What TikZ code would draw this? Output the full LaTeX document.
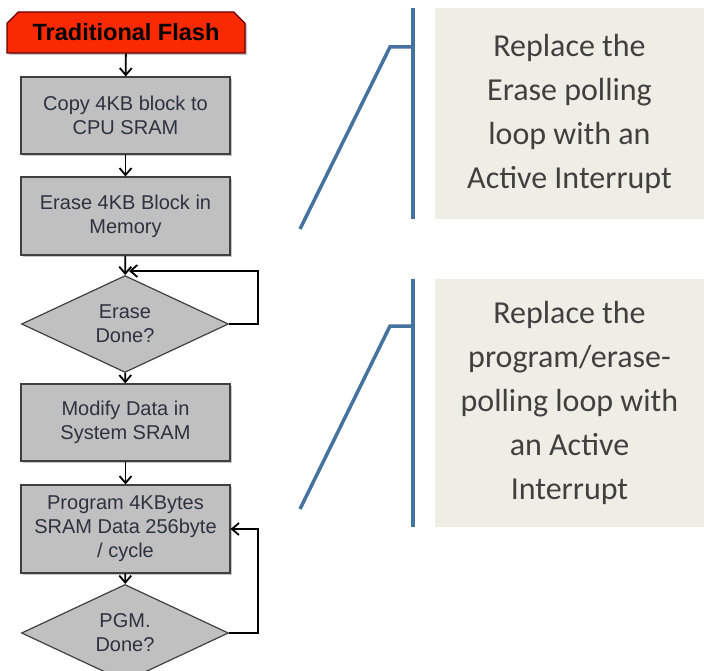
\documentclass[tikz,border=0pt]{standalone}
\usepackage{fontspec}
\setmainfont{Carlito}
\newfontfamily\arialfont{Liberation Sans}
\usetikzlibrary{arrows.meta}
\usetikzlibrary{shapes.geometric, shapes.misc, shadows}

\definecolor{flashred}{RGB}{250,42,0}
\definecolor{boxgray}{RGB}{192,192,192}
\definecolor{boxtext}{RGB}{45,50,62}
\definecolor{notefill}{RGB}{239,238,230}
\definecolor{notetext}{RGB}{64,64,64}
\definecolor{bracketblue}{RGB}{70,114,160}

\tikzset{
  flowbox/.style={rectangle, draw=black!75, line width=1.2pt, fill=boxgray,
    minimum width=209, minimum height=77, inner sep=0, align=center,
    text=boxtext, font=\arialfont\fontsize{20}{24}\selectfont,
    drop shadow={shadow xshift=2pt, shadow yshift=-2pt, opacity=0.45}},
  flowtest/.style={diamond, draw=black!75, line width=1.2pt, fill=boxgray,
    minimum width=207, minimum height=70, inner sep=0, align=center,
    text=boxtext, font=\arialfont\fontsize{20}{24}\selectfont},
  flowhead/.style={chamfered rectangle, chamfered rectangle corners={north west, north east},
    chamfered rectangle xsep=8pt, draw=black!60!red, line width=1.2pt, fill=flashred,
    minimum width=238, minimum height=41, inner sep=0,
    font=\arialfont\bfseries\fontsize{23.5}{27}\selectfont,
    drop shadow={shadow xshift=2pt, shadow yshift=-2pt, opacity=0.45}},
  flowarrow/.style={-{Straight Barb[length=7pt, width=12pt]}, line width=1.8pt},
  notebox/.style={rectangle, fill=notefill, minimum width=269, inner sep=0,
    align=center, text=notetext, font=\fontsize{32}{44}\selectfont},
  bracket/.style={draw=bracketblue, line width=3.5pt}
}

\begin{document}
\begin{tikzpicture}[x=1pt, y=-1pt]
\useasboundingbox (0,0) rectangle (704,671);

% flow chart
\node[flowhead] (head) at (126, 32.5) {Traditional Flash};
\node[flowbox]  (copy) at (125.5, 115.5) {Copy 4KB block to\\CPU SRAM};
\node[flowbox, minimum height=78] (erase) at (125.5, 216) {Erase 4KB Block in\\Memory};
\node[flowtest] (erasedone) at (125, 324) {Erase\\Done?};
\node[flowbox]  (modify) at (125.5, 422.5) {Modify Data in\\System SRAM};
\node[flowbox, minimum height=88] (program) at (125.5, 529) {Program 4KBytes\\SRAM Data 256byte\\/ cycle};
\node[flowtest, minimum height=72] (pgmdone) at (125, 633) {PGM.\\Done?};

\coordinate (eraseloop) at (258, 271);
\coordinate (eraseback) at (129, 271);
\coordinate (pgmloop)   at (258, 529);

\draw[flowarrow] (head)      -- (copy);
\draw[flowarrow] (copy)      -- (erase);
\draw[flowarrow] (erase)     -- (erasedone);
\draw[flowarrow] (erasedone) -- (modify);
\draw[flowarrow] (modify)    -- (program);
\draw[flowarrow] (program)   -- (pgmdone);
\draw[flowarrow] (erasedone.east) -- (eraseloop |- erasedone.east) -- (eraseloop) -- (eraseback);
\draw[flowarrow] (pgmdone.east) -- (pgmloop |- pgmdone.east) -- (pgmloop) -- (program.east);

% notes
\node[notebox, minimum height=211] (noteA) at (569.5, 113.5)
  {Replace the\\Erase polling\\loop with an\\Active Interrupt};
\node[notebox, minimum height=248] (noteB) at (569.5, 403)
  {Replace the\\program/erase-\\polling loop with\\an Active\\Interrupt};

\coordinate (kneeA) at (390, 47);
\coordinate (footA) at (300, 229);
\coordinate (kneeB) at (390, 326);
\coordinate (footB) at (300, 509);

\draw[bracket] ([xshift=-22pt]noteA.north west) -- ([xshift=-22pt]noteA.south west);
\draw[bracket] (footA) -- (kneeA) -- (kneeA -| 413, 0);
\draw[bracket] ([xshift=-22pt]noteB.north west) -- ([xshift=-22pt]noteB.south west);
\draw[bracket] (footB) -- (kneeB) -- (kneeB -| 413, 0);
\end{tikzpicture}
\end{document}
